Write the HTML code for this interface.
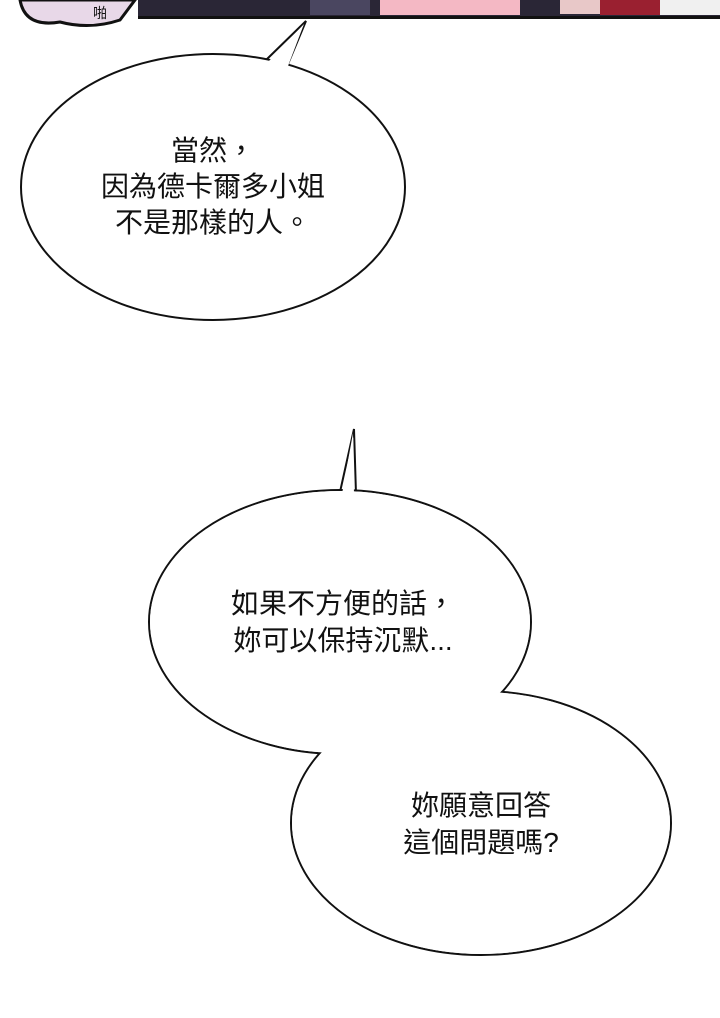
<!DOCTYPE html>
<html><head><meta charset="utf-8"><style>
html,body{margin:0;padding:0;background:#fff;width:720px;height:1018px;overflow:hidden}
svg{display:block}
text{font-family:"Liberation Sans","Noto Sans CJK TC",sans-serif;font-size:28px;fill:#111;text-anchor:middle}
</style></head><body>
<svg width="720" height="1018" viewBox="0 0 720 1018">
<!-- top strip -->
<rect x="138" y="0" width="582" height="17" fill="#2a2636"/>
<rect x="138" y="16" width="582" height="3" fill="#111"/>
<rect x="380" y="0" width="140" height="15" fill="#f4b8c4"/>
<rect x="310" y="0" width="60" height="15" fill="#4a4660"/>
<rect x="560" y="0" width="40" height="14" fill="#e8c8c8"/>
<rect x="600" y="0" width="60" height="15" fill="#9a2030"/>
<rect x="660" y="0" width="60" height="15" fill="#f0f0f0"/>
<path d="M20 0 Q25 28 60 22 Q90 30 120 20 L135 0 Z" fill="#e8d8e8" stroke="#111" stroke-width="3"/>
<text x="100" y="18" style="font-size:14px">啪</text>
<!-- bubble 1 -->
<polygon points="266,60 306,21 288,64" fill="#fff" stroke="#111" stroke-width="2"/>
<ellipse cx="213" cy="187" rx="192" ry="133" fill="#fff" stroke="#111" stroke-width="2"/>
<polygon points="268,62 304,24 288,66" fill="#fff"/>
<text x="213" y="160">當然，</text>
<text x="213" y="196">因為德卡爾多小姐</text>
<text x="213" y="232">不是那樣的人。</text>
<!-- bubble 2 & 3 -->
<polygon points="340,492 354,429 356,494" fill="#fff" stroke="#111" stroke-width="2"/>
<ellipse cx="340" cy="622" rx="191" ry="132" fill="#fff" stroke="#111" stroke-width="2"/>
<ellipse cx="481" cy="823" rx="190" ry="132" fill="#fff" stroke="#111" stroke-width="2"/>
<ellipse cx="340" cy="622" rx="190" ry="131" fill="#fff"/>
<ellipse cx="481" cy="823" rx="189" ry="131" fill="#fff"/>
<polygon points="342,494 353,433 354,496" fill="#fff"/>
<text x="343" y="613">如果不方便的話，</text>
<text x="343" y="650">妳可以保持沉默...</text>
<text x="481" y="815">妳願意回答</text>
<text x="481" y="852">這個問題嗎?</text>
</svg>
</body></html>
